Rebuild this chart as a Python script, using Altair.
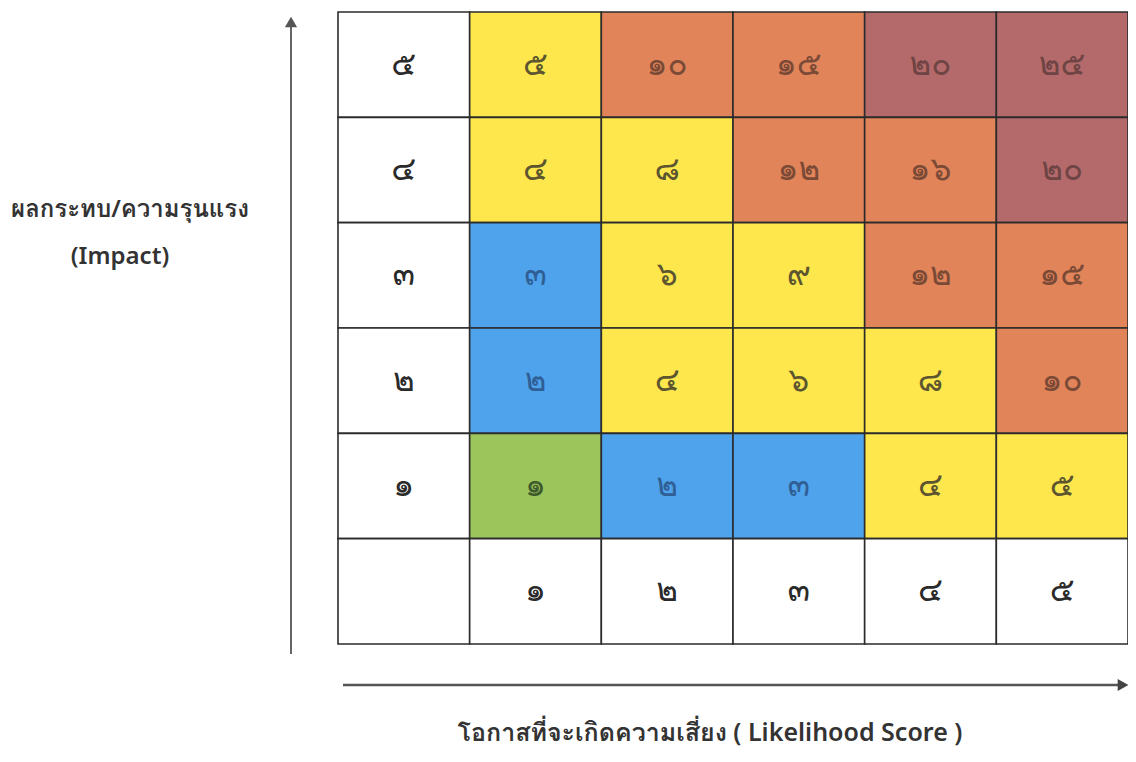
import altair as alt
import pandas as pd

# ---- data ----
likelihood_labels = ["๑", "๒", "๓", "๔", "๕"]
impact_labels = ["๕", "๔", "๓", "๒", "๑"]  # top to bottom
score_labels = [
    ["๕", "๑๐", "๑๕", "๒๐", "๒๕"],
    ["๔", "๘", "๑๒", "๑๖", "๒๐"],
    ["๓", "๖", "๙", "๑๒", "๑๕"],
    ["๒", "๔", "๖", "๘", "๑๐"],
    ["๑", "๒", "๓", "๔", "๕"],
]
risk_levels = [
    ["M", "H", "H", "E", "E"],
    ["M", "M", "H", "H", "E"],
    ["L", "M", "M", "H", "H"],
    ["L", "M", "M", "M", "H"],
    ["VL", "L", "L", "M", "M"],
]
level_names = ["label", "VL", "L", "M", "H", "E"]
level_colors = ["#ffffff", "#9cc65c", "#4fa3ec", "#fde74c", "#e2845a", "#b46a6a"]
text_colors = ["#2a2a2a", "#3f5a2c", "#2f5f95", "#5c5530", "#7a4a36", "#6e4444"]

y_title = ["ผลกระทบ/ความรุนแรง", "(Impact)"]
x_title = "โอกาสที่จะเกิดความเสี่ยง ( Likelihood Score )"

# ---- build table ----
rows = []
n = len(impact_labels)
for i, imp in enumerate(impact_labels):
    r = n - i  # row index (1..5), row 0 is the likelihood label row
    rows.append(dict(col=0, row=r, label=imp, level="label"))
    for j in range(len(likelihood_labels)):
        rows.append(dict(col=j + 1, row=r, label=score_labels[i][j], level=risk_levels[i][j]))
rows.append(dict(col=0, row=0, label="", level="label"))
for j, lk in enumerate(likelihood_labels):
    rows.append(dict(col=j + 1, row=0, label=lk, level="label"))
df = pd.DataFrame(rows)

FONT = "Noto Sans, Loma, Garuda, Tlwg Typo, sans-serif"

xs = alt.Scale(domain=[0, 6], nice=False, zero=False)
ys = alt.Scale(domain=[0, 6], nice=False, zero=False)

base = alt.Chart(df).transform_calculate(
    c1="datum.col + 1", r1="datum.row + 1",
    cx="datum.col + 0.5", cy="datum.row + 0.5",
)

cells = base.mark_rect(stroke="#2b2b2b", strokeWidth=1.6).encode(
    x=alt.X("col:Q", scale=xs, axis=None),
    x2="c1:Q",
    y=alt.Y("row:Q", scale=ys, axis=None),
    y2="r1:Q",
    fill=alt.Fill("level:N", scale=alt.Scale(domain=level_names, range=level_colors), legend=None),
)

labels = base.mark_text(fontSize=33, font=FONT).encode(
    x=alt.X("cx:Q", scale=xs, axis=None),
    y=alt.Y("cy:Q", scale=ys, axis=None),
    text="label:N",
    color=alt.Color("level:N", scale=alt.Scale(domain=level_names, range=text_colors), legend=None),
)

one = df.head(1)
# arrows (decorations)
v_arrow = alt.Chart(one).mark_rule(color="#666666", strokeWidth=2).encode(
    x=alt.value(-47), y=alt.value(642), y2=alt.value(14)
)
v_head = alt.Chart(one).mark_point(shape="triangle-up", filled=True, color="#555555", size=150, opacity=1).encode(
    x=alt.value(-47), y=alt.value(10)
)
h_arrow = alt.Chart(one).mark_rule(color="#555555", strokeWidth=2.5).encode(
    x=alt.value(5), x2=alt.value(782), y=alt.value(673)
)
h_head = alt.Chart(one).mark_point(shape="triangle-right", filled=True, color="#444444", size=150, opacity=1).encode(
    x=alt.value(785), y=alt.value(673)
)

ytitle1 = alt.Chart(one).mark_text(fontSize=24, font=FONT, fontWeight=600, color="#333333").encode(
    x=alt.value(-208), y=alt.value(198), text=alt.value(y_title[0])
)
ytitle2 = alt.Chart(one).mark_text(fontSize=24, font=FONT, fontWeight=600, color="#333333").encode(
    x=alt.value(-218), y=alt.value(245), text=alt.value(y_title[1])
)
xtitle = alt.Chart(one).mark_text(fontSize=25, font=FONT, fontWeight=600, color="#333333").encode(
    x=alt.value(372), y=alt.value(721), text=alt.value(x_title)
)

chart = alt.layer(
    cells, labels, v_arrow, v_head, h_arrow, h_head, ytitle1, ytitle2, xtitle
).properties(
    width=790,
    height=632,
    autosize=alt.AutoSizeParams(type="none"),
    padding={"left": 330, "top": 4, "right": 0, "bottom": 108},
).configure_view(stroke=None)

chart.save("out.html", embed_options={"renderer": "svg", "actions": False})
